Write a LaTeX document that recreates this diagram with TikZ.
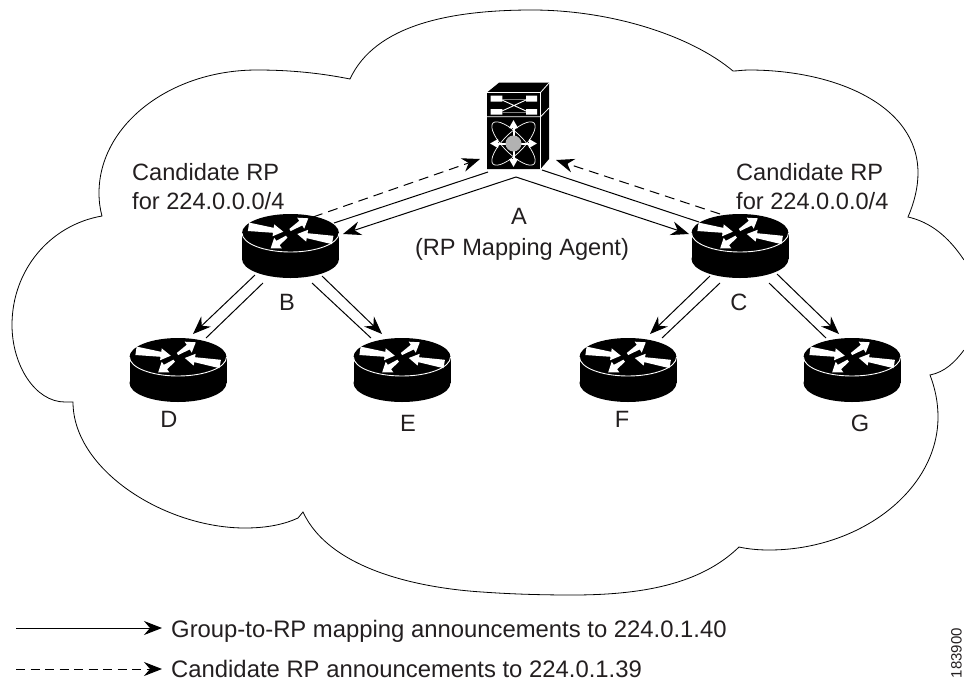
\documentclass[tikz,border=0pt]{standalone}
\usepackage{fontspec}
\setmainfont{Liberation Sans}
\usetikzlibrary{arrows.meta}
\definecolor{txt}{HTML}{231F20}
\tikzset{
  x=1pt,y=-1pt,
  conn/.style={draw=black,line width=1pt},
  tipped/.style={conn,-{Stealth[length=18pt,width=14pt,inset=6pt]}},
  dashconn/.style={tipped,dash pattern=on 10pt off 6pt},
  legdash/.style={tipped,dash pattern=on 9pt off 5.5pt},
  lbl/.style={font=\fontsize{23.6}{29}\selectfont,text=txt,inner sep=0pt,anchor=base},
  lblw/.style={lbl,anchor=base west},
  leglbl/.style={lblw,font=\fontsize{23.85}{29}\selectfont},
  routerbox/.style={rectangle,inner sep=0pt,minimum width=97pt,minimum height=64pt},
  devarr/.style={draw=white,line width=2pt,-{Triangle[length=8pt,width=8.5pt]}},
}
% tapered white arrow: tail x,y; tip x,y; tail width, neck width, head width, head length
\newcommand{\taparrow}[8]{%
  \pgfmathsetmacro{\tang}{atan2(-(#4-(#2)),#3-(#1))}%
  \pgfmathsetmacro{\tlen}{sqrt((#3-(#1))*(#3-(#1))+(#4-(#2))*(#4-(#2)))}%
  \pgfmathsetmacro{\tneck}{\tlen-#8}%
  \fill[white,shift={(#1,#2)},rotate=\tang]
    (0,-#5/2) -- (\tneck,-#6/2) -- (\tneck,-#7/2) -- (\tlen,0)
    -- (\tneck,#7/2) -- (\tneck,#6/2) -- (0,#5/2) -- cycle;}
\newcommand{\routerglyph}[2]{%
  \begin{scope}[shift={(#1,#2)}]
    \fill[black] (0,-13) ellipse [x radius=48.5pt,y radius=19pt];
    \fill[black] (0,13) ellipse [x radius=48.5pt,y radius=19pt];
    \fill[black] (-48.5,-13) rectangle (48.5,13);
    \draw[white,line width=0.9pt] (-48.5,-13) .. controls (-48.5,-2.5) and (-26.8,6) .. (0,6)
       .. controls (26.8,6) and (48.5,-2.5) .. (48.5,-13);
    \taparrow{-42}{-19.2}{-7.2}{-14.3}{8.5}{5}{12}{10}
    \taparrow{-0.5}{-16}{17.8}{-27.7}{2.5}{5.5}{13}{9}
    \taparrow{42.2}{-6}{6.8}{-12}{8.5}{5}{12}{10}
    \taparrow{-3.8}{-9.3}{-19.8}{2.3}{2.5}{5.5}{13}{9}
  \end{scope}}
\begin{document}
\begin{tikzpicture}
\useasboundingbox (0,0) rectangle (964,681);
% cloud
\draw[black,line width=0.8pt,line join=miter]
  (964,260) .. controls (948,236) and (930,222) .. (908,217)
  .. controls (914,203) and (918,188) .. (918,173)
  .. controls (918,105) and (835,70) .. (749,70)
  .. controls (742,70) and (738,71) .. (733,71)
  .. controls (690,35) and (610,10) .. (532,10)
  .. controls (450,10) and (375,25) .. (350,79)
  .. controls (320,73) and (290,70) .. (257,70)
  .. controls (170,70) and (99,125) .. (99,193)
  .. controls (99,201) and (100,209) .. (102,216)
  .. controls (50,225) and (12,270) .. (12,325)
  .. controls (12,365) and (35,402) .. (65,402) -- (73,402)
  .. controls (73,470) and (165,528) .. (245,528)
  .. controls (268,528) and (285,524) .. (298,518) -- (303,512)
  .. controls (330,570) and (420,588) .. (482,592)
  .. controls (510,594) and (540,595) .. (572,595)
  .. controls (640,595) and (700,585) .. (739,547)
  .. controls (748,549) and (758,550) .. (769,550)
  .. controls (860,550) and (938,490) .. (938,417)
  .. controls (938,402) and (935,388) .. (930,375)
  .. controls (945,372) and (955,362) .. (964,350);
% device A
\fill[black] (487,92.5) -- (499,82.7) -- (549,82.7) -- (549,159) -- (540.5,169) -- (487,169) -- cycle;
\draw[white,line width=0.8pt] (487,92.5) -- (540.5,92.5) -- (549,83);
\draw[white,line width=0.8pt] (487,116.8) -- (540.5,116.8) -- (549,108);
\draw[white,line width=0.5pt] (540.5,92.5) -- (540.5,169);
\fill[white] (490.7,95.7) rectangle (502.3,101.7) (526,95.7) rectangle (537,101.7)
             (490.7,109) rectangle (502.3,114.6) (526,109) rectangle (537,114.6);
\draw[black!50,line width=1pt] (502,99) -- (526,99) (502,112) -- (526,112);
\draw[white,line width=0.9pt] (502,100) -- (526,111) (502,111) -- (526,100);
\begin{scope}[shift={(513.5,143.5)}]
  \draw[white,line width=0.7pt,rotate=45] (0,0) ellipse [x radius=29pt,y radius=10pt];
  \draw[white,line width=0.7pt,rotate=-45] (0,0) ellipse [x radius=29pt,y radius=10pt];
  \draw[devarr] (0,0) -- (0,-23.5);
  \draw[devarr] (0,0) -- (0,23.5);
  \draw[devarr] (0,0) -- (23.5,0);
  \draw[devarr] (0,0) -- (-23.5,0);
  \fill[black!30] (0,0) circle [radius=8pt];
\end{scope}
% named holders
\node[rectangle,inner sep=0pt,minimum width=62pt,minimum height=86pt] (A) at (518,126) {};
\node[routerbox] (B) at (290.5,246) {};
\node[routerbox] (C) at (740,246) {};
\node[routerbox] (D) at (178,370) {};
\node[routerbox] (E) at (402,370) {};
\node[routerbox] (F) at (628,370) {};
\node[routerbox] (G) at (852,370) {};
\routerglyph{290.5}{246}
\routerglyph{740}{246}
\routerglyph{178}{370}
\routerglyph{402}{370}
\routerglyph{628}{370}
\routerglyph{852}{370}
% connectors
\draw[tipped] ([shift={(-2,51)}]A.center) -- ([shift={(52.5,-12)}]B.center);
\draw[tipped] ([shift={(-2,51)}]A.center) -- ([shift={(-51,-12)}]C.center);
\draw[conn] ([shift={(43.5,-23)}]B.center) -- ([shift={(-30,46)}]A.center);
\draw[conn] ([shift={(-41,-24)}]C.center) -- ([shift={(24,44)}]A.center);
\draw[dashconn] ([shift={(22.5,-29)}]B.center) -- ([shift={(-38,33)}]A.center);
\draw[dashconn] ([shift={(-20,-32)}]C.center) -- ([shift={(38,34)}]A.center);
\draw[tipped] ([shift={(-35.5,29)}]B.center) -- ([shift={(15,-36)}]D.center);
\draw[conn] ([shift={(-27.5,37)}]B.center) -- ([shift={(28,-32)}]D.center);
\draw[tipped] ([shift={(31.5,30)}]B.center) -- ([shift={(-20,-36)}]E.center);
\draw[conn] ([shift={(21.5,37)}]B.center) -- ([shift={(-31,-32)}]E.center);
\draw[tipped] ([shift={(-30,30)}]C.center) -- ([shift={(22,-36)}]F.center);
\draw[conn] ([shift={(-20,37)}]C.center) -- ([shift={(34,-32)}]F.center);
\draw[tipped] ([shift={(37,28)}]C.center) -- ([shift={(-13,-36)}]G.center);
\draw[conn] ([shift={(29,37)}]C.center) -- ([shift={(-26,-32)}]G.center);
% labels
\node[lblw] (cl1) at (132,180) {Candidate RP};
\node[lblw] (cl2) at (132,209) {for 224.0.0.0/4};
\node[lblw] (cr1) at (736,180) {Candidate RP};
\node[lblw] (cr2) at (736,209) {for 224.0.0.0/4};
\node[lbl] (la) at (519,224) {A};
\node[lbl] (lam) at (522,255) {(RP Mapping Agent)};
\node[lbl] (lb) at (287,310) {B};
\node[lbl] (lc) at (739,310) {C};
\node[lbl] (ld) at (169,427) {D};
\node[lbl] (le) at (408,431) {E};
\node[lbl] (lf) at (622,427) {F};
\node[lbl] (lg) at (860,431) {G};
% legend
\coordinate (ls1) at (16,628);
\coordinate (le1) at (162,628);
\coordinate (ls2) at (16,669);
\coordinate (le2) at (162,669);
\draw[tipped] (ls1) -- (le1);
\draw[legdash] (ls2) -- (le2);
\node[leglbl] (lg1) at (171,637) {Group-to-RP mapping announcements to 224.0.1.40};
\node[leglbl] (lg2) at (171,677) {Candidate RP announcements to 224.0.1.39};
\node[font=\fontsize{15}{18}\selectfont,text=txt,inner sep=0pt,anchor=base,rotate=90] (fig) at (961.5,653) {183900};
\end{tikzpicture}
\end{document}
